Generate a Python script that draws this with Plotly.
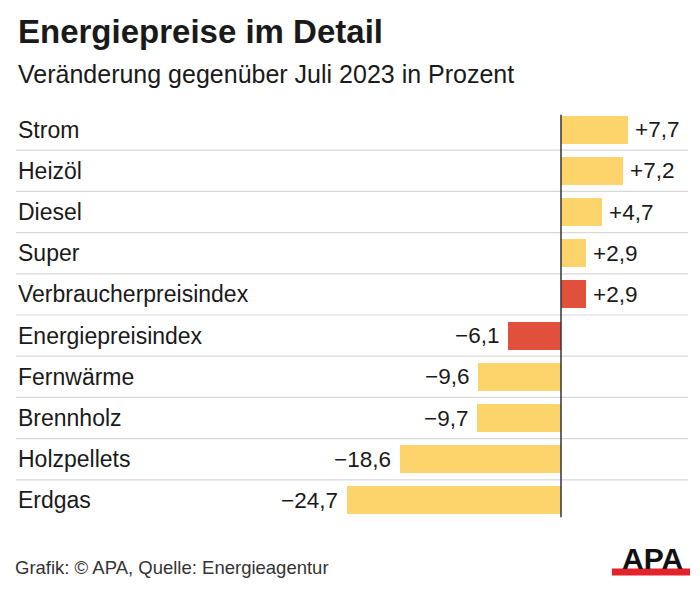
import plotly.graph_objects as go

categories = ["Strom", "Heizöl", "Diesel", "Super", "Verbraucherpreisindex",
              "Energiepreisindex", "Fernwärme", "Brennholz", "Holzpellets", "Erdgas"]
values = [7.7, 7.2, 4.7, 2.9, 2.9, -6.1, -9.6, -9.7, -18.6, -24.7]
value_labels = ["+7,7", "+7,2", "+4,7", "+2,9", "+2,9", "−6,1", "−9,6", "−9,7", "−18,6", "−24,7"]
highlight = ["Verbraucherpreisindex", "Energiepreisindex"]

YELLOW = "#FDD46B"
RED = "#E0503A"
FONT = "Liberation Sans, Arial, sans-serif"

W, H = 700, 595
x0_px = 561.0
px_per_unit = 8.66
xmin = -x0_px / px_per_unit
xmax = (W - x0_px) / px_per_unit

TOP = 130 - 41.11 / 2
BOTTOM = 500 + 41.11 / 2


def px(x):
    return x / W


def py(y):
    return (BOTTOM - y) / (BOTTOM - TOP)


colors = [RED if c in highlight else YELLOW for c in categories]
ypos = list(range(len(categories)))

fig = go.Figure()
fig.add_trace(go.Bar(
    x=values, y=ypos, orientation="h", width=0.68,
    marker=dict(color=colors, line=dict(width=0)),
    hoverinfo="skip",
))

shapes = []
for i in range(len(categories) - 1):
    shapes.append(dict(type="line", xref="paper", yref="y",
                       x0=px(16), x1=px(688), y0=i + 0.5, y1=i + 0.5,
                       line=dict(color="#d9d9d9", width=1.2), layer="below"))
shapes.append(dict(type="line", xref="x", yref="y", x0=0, x1=0, y0=-0.36, y1=9.41,
                   line=dict(color="#333333", width=1.5)))
shapes.append(dict(type="rect", xref="paper", yref="paper",
                   x0=px(612), x1=px(690), y0=py(575), y1=py(568),
                   fillcolor="#E3222B", line=dict(width=0)))
fig.update_layout(shapes=shapes)

annotations = []
for i, c in enumerate(categories):
    annotations.append(dict(x=px(16), xref="paper", y=i, yref="y", text=c,
                            showarrow=False, xanchor="left", yanchor="middle",
                            font=dict(family=FONT, size=23, color="#1a1a1a")))
for i, (v, lab) in enumerate(zip(values, value_labels)):
    pos = v >= 0
    annotations.append(dict(x=v, xref="x", y=i, yref="y", text=lab,
                            showarrow=False, xanchor="left" if pos else "right",
                            yanchor="middle", xshift=5 if pos else -7,
                            font=dict(family=FONT, size=22.5, color="#1a1a1a")))
annotations.append(dict(x=px(16), y=py(52.5), xref="paper", yref="paper",
                        text="<b>Energiepreise im Detail</b>", showarrow=False,
                        xanchor="left", yanchor="bottom",
                        font=dict(family=FONT, size=33, color="#1a1a1a")))
annotations.append(dict(x=px(16), y=py(90), xref="paper", yref="paper",
                        text="Veränderung gegenüber Juli 2023 in Prozent", showarrow=False,
                        xanchor="left", yanchor="bottom",
                        font=dict(family=FONT, size=25, color="#1a1a1a")))
annotations.append(dict(x=px(13), y=py(579.5), xref="paper", yref="paper",
                        text="Grafik: © APA, Quelle: Energieagentur", showarrow=False,
                        xanchor="left", yanchor="bottom",
                        font=dict(family=FONT, size=18.5, color="#333333")))
annotations.append(dict(x=px(652), y=py(576), xref="paper", yref="paper",
                        text="<b>APA</b>", showarrow=False,
                        xanchor="center", yanchor="bottom",
                        font=dict(family=FONT, size=30, color="#111111")))
fig.update_layout(annotations=annotations)

fig.update_layout(
    width=W, height=H,
    margin=dict(l=0, r=0, t=TOP, b=H - BOTTOM, pad=0),
    paper_bgcolor="white", plot_bgcolor="white",
    showlegend=False, bargap=0,
    xaxis=dict(range=[xmin, xmax], visible=False, fixedrange=True),
    yaxis=dict(range=[9.5, -0.5], visible=False, fixedrange=True),
)

fig.write_html("out.html", config={"displayModeBar": False},
               post_script="document.body.style.margin='0';")
